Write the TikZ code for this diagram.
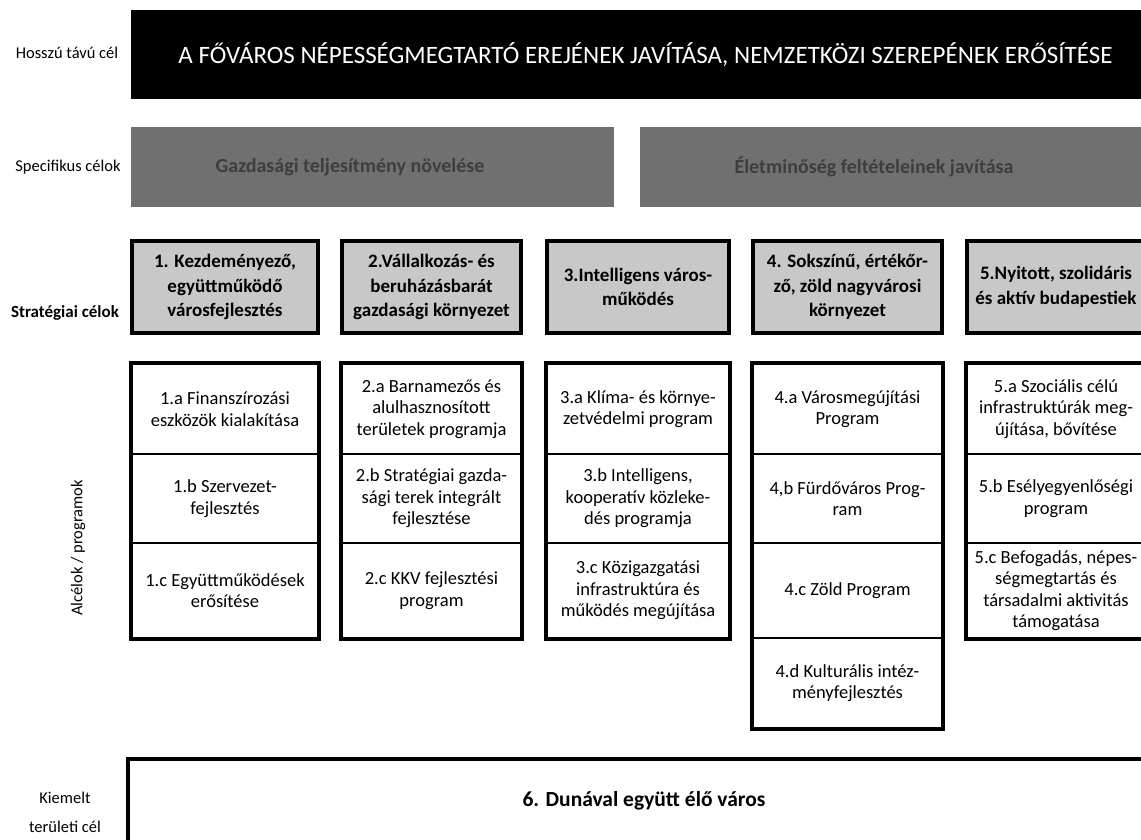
\documentclass[tikz,border=0pt]{standalone}
\usepackage{fontspec}
\setmainfont{Carlito}
\usepackage{tikz}
\definecolor{lgray}{RGB}{200,200,200}
\definecolor{dgray}{RGB}{112,112,112}
\definecolor{dtext}{RGB}{62,62,62}
\tikzstyle{sidetext}=[align=center,inner sep=0pt,font=\fontsize{16.5}{20}\selectfont]
\tikzstyle{goalbar}=[fill=black,text=white,inner sep=0pt,font=\fontsize{25}{29}\selectfont]
\tikzstyle{specbox}=[fill=dgray,inner sep=0pt]
\tikzstyle{spectext}=[text=dtext,inner sep=0pt,font=\bfseries\fontsize{20}{24}\selectfont]
\tikzstyle{stratbox}=[draw=black,line width=4pt,fill=lgray,align=center,inner sep=0pt,minimum height=92pt,font=\bfseries\fontsize{19}{24.5}\selectfont]
\tikzstyle{cell}=[draw=black,line width=1.6pt,fill=white,align=center,inner sep=0pt,font=\fontsize{18.5}{21.5}\selectfont]
\tikzstyle{frame}=[draw=black,line width=4pt]
\tikzstyle{areabox}=[draw=black,line width=4pt,fill=white,inner sep=0pt,font=\bfseries\fontsize{21.5}{26}\selectfont]

\begin{document}
\begin{tikzpicture}[x=1pt,y=-1pt]
        \useasboundingbox (0,0) rectangle (1141,840);
        \clip (0,0) rectangle (1141,840);

        \node [style = sidetext] (longlab) at (67,53) {Hosszú távú cél};
        \node [style = goalbar, minimum width=1029pt, minimum height=89pt] (aim) at (645.5,54.5) {A FŐVÁROS NÉPESSÉGMEGTARTÓ EREJÉNEK JAVÍTÁSA, NEMZETKÖZI SZEREPÉNEK ERŐSÍTÉSE};

        \node [style = sidetext] (speclab) at (68,167) {Specifikus célok};
        \node [style = specbox, minimum width=483pt, minimum height=80pt] (econ) at (372.5,167) {};
        \node [style = spectext] (econtext) at (350,167) {Gazdasági teljesítmény növelése};
        \node [style = specbox, minimum width=520pt, minimum height=80pt] (life) at (900,167) {};
        \node [style = spectext] (lifetext) at (874,167) {Életminőség feltételeinek javítása};

        \node [style = sidetext, font=\bfseries\fontsize{17}{20}\selectfont] (stratlab) at (65,313) {Stratégiai célok};
        \node [style = stratbox, minimum width=186pt] (s1) at (225,287) {1. Kezdeményező,\\együttműködő\\városfejlesztés};
        \node [style = stratbox, minimum width=179pt] (s2) at (431.5,287) {2.Vállalkozás- és\\beruházásbarát\\gazdasági környezet};
        \node [style = stratbox, minimum width=182pt] (s3) at (638,287) {3.Intelligens város-\\működés};
        \node [style = stratbox, minimum width=189pt] (s4) at (847.5,287) {4. Sokszínű, értékőr-\\ző, zöld nagyvárosi\\környezet};
        \node [style = stratbox, minimum width=178pt] (s5) at (1056,287) {5.Nyitott, szolidáris\\és aktív budapestiek};

        \node [style = sidetext, rotate=90] (sublab) at (78,548) {Alcélok / programok};

        \node [style = cell, minimum width=186pt, minimum height=90pt] (p1a) at (225,409) {1.a Finanszírozási\\eszközök kialakítása};
        \node [style = cell, minimum width=186pt, minimum height=89pt] (p1b) at (225,498.5) {1.b Szervezet-\\fejlesztés};
        \node [style = cell, minimum width=186pt, minimum height=95pt] (p1c) at (225,590.5) {1.c Együttműködések\\erősítése};

        \node [style = cell, minimum width=179pt, minimum height=90pt] (p2a) at (431.5,409) {2.a Barnamezős és\\alulhasznosított\\területek programja};
        \node [style = cell, minimum width=179pt, minimum height=89pt] (p2b) at (431.5,498.5) {2.b Stratégiai gazda-\\sági terek integrált\\fejlesztése};
        \node [style = cell, minimum width=179pt, minimum height=95pt] (p2c) at (431.5,590.5) {2.c KKV fejlesztési\\program};

        \node [style = cell, minimum width=182pt, minimum height=90pt] (p3a) at (638,409) {3.a Klíma- és környe-\\zetvédelmi program};
        \node [style = cell, minimum width=182pt, minimum height=89pt] (p3b) at (638,498.5) {3.b Intelligens,\\kooperatív közleke-\\dés programja};
        \node [style = cell, minimum width=182pt, minimum height=95pt] (p3c) at (638,590.5) {3.c Közigazgatási\\infrastruktúra és\\működés megújítása};

        \node [style = cell, minimum width=189pt, minimum height=90pt] (p4a) at (847.5,409) {4.a Városmegújítási\\Program};
        \node [style = cell, minimum width=189pt, minimum height=89pt] (p4b) at (847.5,498.5) {4,b Fürdőváros Prog-\\ram};
        \node [style = cell, minimum width=189pt, minimum height=95pt] (p4c) at (847.5,590.5) {4.c Zöld Program};
        \node [style = cell, minimum width=189pt, minimum height=90pt] (p4d) at (847.5,683) {4.d Kulturális intéz-\\ményfejlesztés};

        \node [style = cell, minimum width=178pt, minimum height=90pt] (p5a) at (1056,409) {5.a Szociális célú\\infrastruktúrák meg-\\újítása, bővítése};
        \node [style = cell, minimum width=178pt, minimum height=89pt] (p5b) at (1056,498.5) {5.b Esélyegyenlőségi\\program};
        \node [style = cell, minimum width=178pt, minimum height=95pt] (p5c) at (1056,590.5) {5.c Befogadás, népes-\\ségmegtartás és\\társadalmi aktivitás\\támogatása};

        \draw [style = frame] (p1a.north west) rectangle (p1c.south east);
        \draw [style = frame] (p2a.north west) rectangle (p2c.south east);
        \draw [style = frame] (p3a.north west) rectangle (p3c.south east);
        \draw [style = frame] (p4a.north west) rectangle (p4d.south east);
        \draw [style = frame] (p5a.north west) rectangle (p5c.south east);

        \node [style = sidetext, font=\fontsize{16.5}{29}\selectfont] (arealab) at (65,812.5) {Kiemelt\\területi cél};
        \node [style = areabox, minimum width=1032pt, minimum height=84pt] (danube) at (644,801) {6. Dunával együtt élő város};
\end{tikzpicture}
\end{document}
